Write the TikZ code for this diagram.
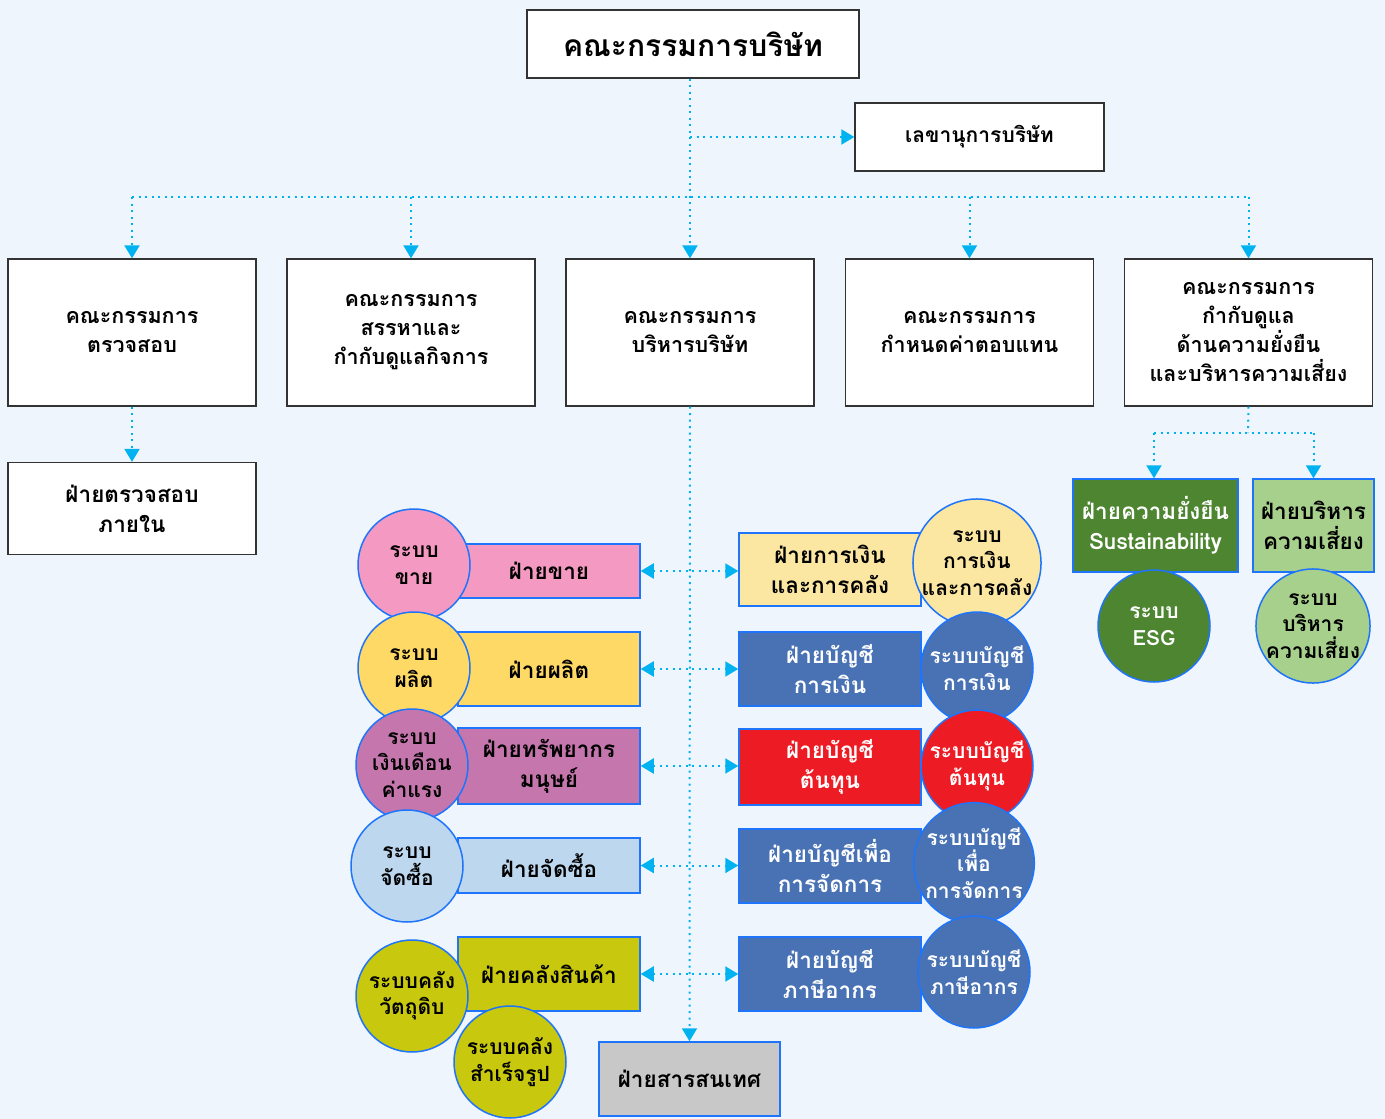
\documentclass[tikz,border=0pt]{standalone}
\usepackage{fontspec}
\setmainfont[Script=Thai]{Loma}
\usepackage{tikz}
\usetikzlibrary{positioning}
\usetikzlibrary{arrows.meta}
\definecolor{pagebg}{RGB}{239,245,252}
\definecolor{linkcyan}{RGB}{0,178,240}
\definecolor{edgeblue}{RGB}{30,116,250}
\definecolor{salespink}{RGB}{244,154,194}
\definecolor{prodyellow}{RGB}{255,217,102}
\definecolor{hrmauve}{RGB}{197,119,173}
\definecolor{purchblue}{RGB}{189,215,238}
\definecolor{wholive}{RGB}{200,200,14}
\definecolor{finyellow}{RGB}{251,230,162}
\definecolor{acctblue}{RGB}{72,114,180}
\definecolor{costred}{RGB}{237,28,36}
\definecolor{esggreen}{RGB}{78,133,49}
\definecolor{riskgreen}{RGB}{168,208,141}
\definecolor{itgray}{RGB}{200,200,200}

\begin{document}
\begin{tikzpicture}[x=1pt, y=-1pt,
boardnode/.style={rectangle, draw=black!80, fill=white, line width=1.3pt, align=center, inner sep=0pt, font=\bfseries\fontsize{21.5}{29}\selectfont},
deptnode/.style={rectangle, draw=edgeblue, line width=1.5pt, align=center, inner sep=0pt, minimum width=182pt, font=\bfseries\fontsize{22.5}{30}\selectfont},
systemnode/.style={circle, draw=edgeblue, line width=1.5pt, minimum size=112pt, inner sep=0pt, align=center, font=\bfseries\fontsize{21}{26.5}\selectfont},
link/.style={linkcyan, line width=2pt, dash pattern=on 2pt off 4.5pt, -{Triangle[length=13pt,width=15pt]}},
plainlink/.style={linkcyan, line width=2pt, dash pattern=on 2pt off 4.5pt},
twolink/.style={linkcyan, line width=2pt, dash pattern=on 2pt off 4.5pt, {Triangle[length=13pt,width=15pt]}-{Triangle[length=13pt,width=15pt]}},
]
\fill[pagebg] (0,0) rectangle (1385,1119);
\useasboundingbox (0,0) rectangle (1385,1119);

%Nodes
\node[boardnode, minimum width=332pt, minimum height=68pt, font=\bfseries\fontsize{30}{34}\selectfont]	(board)		at (693,44)		{คณะกรรมการบริษัท};
\node[boardnode, minimum width=249pt, minimum height=68pt, font=\bfseries\fontsize{21}{29}\selectfont]	(secretary)	at (979.5,137)	{เลขานุการบริษัท};

\node[boardnode, minimum width=248pt, minimum height=147pt]	(audit)		at (132,332.5)	{คณะกรรมการ\\ตรวจสอบ};
\node[boardnode, minimum width=248pt, minimum height=147pt]	(nomination)	at (411,332.5)	{คณะกรรมการ\\สรรหาและ\\กำกับดูแลกิจการ};
\node[boardnode, minimum width=248pt, minimum height=147pt]	(executive)	at (690,332.5)	{คณะกรรมการ\\บริหารบริษัท};
\node[boardnode, minimum width=248pt, minimum height=147pt]	(remuneration)	at (969.5,332.5)	{คณะกรรมการ\\กำหนดค่าตอบแทน};
\node[boardnode, minimum width=248pt, minimum height=147pt]	(riskcom)	at (1248.5,332.5)	{คณะกรรมการ\\กำกับดูแล\\ด้านความยั่งยืน\\และบริหารความเสี่ยง};

\node[boardnode, minimum width=248pt, minimum height=92pt, font=\bfseries\fontsize{22.5}{30}\selectfont]	(intaudit)	at (132,508.5)	{ฝ่ายตรวจสอบ\\ภายใน};

\node[deptnode, fill=esggreen, text=white, minimum width=165pt, minimum height=93pt]	(esgdept)	at (1155.5,525.5)	{ฝ่ายความยั่งยืน\\Sustainability};
\node[deptnode, fill=riskgreen, minimum width=121pt, minimum height=93pt]	(riskdept)	at (1313.5,525.5)	{ฝ่ายบริหาร\\ความเสี่ยง};
\node[systemnode, fill=esggreen, text=white]	(esgsys)	at (1154,626)	{ระบบ\\ESG};
\node[systemnode, fill=riskgreen]	(risksys)	at (1313,626)	{ระบบ\\บริหาร\\ความเสี่ยง};

% left side departments
\node[deptnode, fill=salespink, minimum height=54pt]		(sales)		at (549,571)	{ฝ่ายขาย};
\node[systemnode, fill=salespink]				(salessys)	at (414,565)	{ระบบ\\ขาย};
\node[deptnode, fill=prodyellow, minimum height=74pt]		(prod)		at (549,669)	{ฝ่ายผลิต};
\node[systemnode, fill=prodyellow]				(prodsys)	at (414,668)	{ระบบ\\ผลิต};
\node[deptnode, fill=hrmauve, minimum height=76pt]		(hr)		at (549,766)	{ฝ่ายทรัพยากร\\มนุษย์};
\node[systemnode, fill=hrmauve]					(hrsys)		at (412,765)	{ระบบ\\เงินเดือน\\ค่าแรง};
\node[deptnode, fill=purchblue, minimum height=55pt]		(purch)		at (549,865.5)	{ฝ่ายจัดซื้อ};
\node[systemnode, fill=purchblue]				(purchsys)	at (407,866)	{ระบบ\\จัดซื้อ};
\node[deptnode, fill=wholive, minimum height=74pt]		(warehouse)	at (549,974)	{ฝ่ายคลังสินค้า};
\node[systemnode, fill=wholive]					(rawsys)	at (412,996)	{ระบบคลัง\\วัตถุดิบ};
\node[systemnode, fill=wholive]					(goodssys)	at (510,1062)	{ระบบคลัง\\สำเร็จรูป};

% right side departments
\node[deptnode, fill=finyellow, minimum height=73pt]		(finance)	at (830,569.5)	{ฝ่ายการเงิน\\และการคลัง};
\node[systemnode, fill=finyellow]				(finsys)	at (977,563)	{ระบบ\\การเงิน\\และการคลัง};
\node[deptnode, fill=acctblue, text=white, minimum height=74pt]	(acct)		at (830,669)	{ฝ่ายบัญชี\\การเงิน};
\node[systemnode, fill=acctblue, text=white]			(acctsys)	at (977,668)	{ระบบบัญชี\\การเงิน};
\node[deptnode, fill=costred, text=white, minimum height=76pt]	(cost)		at (830,767)	{ฝ่ายบัญชี\\ต้นทุน};
\node[systemnode, fill=costred, text=white]			(costsys)	at (977,766)	{ระบบบัญชี\\ต้นทุน};
\node[deptnode, fill=acctblue, text=white, minimum height=74pt]	(mgmt)		at (830,866)	{ฝ่ายบัญชีเพื่อ\\การจัดการ};
\node[systemnode, fill=acctblue, text=white]			(mgmtsys)	at (974,863)	{ระบบบัญชี\\เพื่อ\\การจัดการ};
\node[deptnode, fill=acctblue, text=white, minimum height=74pt]	(tax)		at (830,974)	{ฝ่ายบัญชี\\ภาษีอากร};
\node[systemnode, fill=acctblue, text=white]			(taxsys)	at (974,972)	{ระบบบัญชี\\ภาษีอากร};

\node[deptnode, fill=itgray, minimum width=181pt, minimum height=74pt]	(itdept)	at (689.5,1079)	{ฝ่ายสารสนเทศ};

\coordinate (bus) at (690,197);
\coordinate (riskbus) at (1248,433);

%Lines
\draw[link] (executive.north |- board.south) -- (executive.north);
\draw[link] (executive.north |- secretary.west) -- (secretary.west);
\draw[plainlink] (bus -| audit.north) -- (bus -| riskcom.north);
\draw[link] (bus -| audit.north) -- (audit.north);
\draw[link] (bus -| nomination.north) -- (nomination.north);
\draw[link] (bus -| remuneration.north) -- (remuneration.north);
\draw[link] (bus -| riskcom.north) -- (riskcom.north);
\draw[link] (audit.south) -- (intaudit.north);
\draw[plainlink] (riskcom.south) -- (riskbus);
\draw[plainlink] (riskbus -| esgsys.north) -- (riskbus -| riskdept.north);
\draw[link] (riskbus -| esgsys.north) -- (esgsys.north |- esgdept.north);
\draw[link] (riskbus -| riskdept.north) -- (riskdept.north);
\draw[link] (executive.south) -- (itdept.north);
\draw[twolink] (sales.east) -- (sales.east -| finance.west);
\draw[twolink] (prod.east) -- (acct.west);
\draw[twolink] (hr.east) -- (hr.east -| cost.west);
\draw[twolink] (purch.east) -- (purch.east -| mgmt.west);
\draw[twolink] (warehouse.east) -- (tax.west);
\end{tikzpicture}
\end{document}
